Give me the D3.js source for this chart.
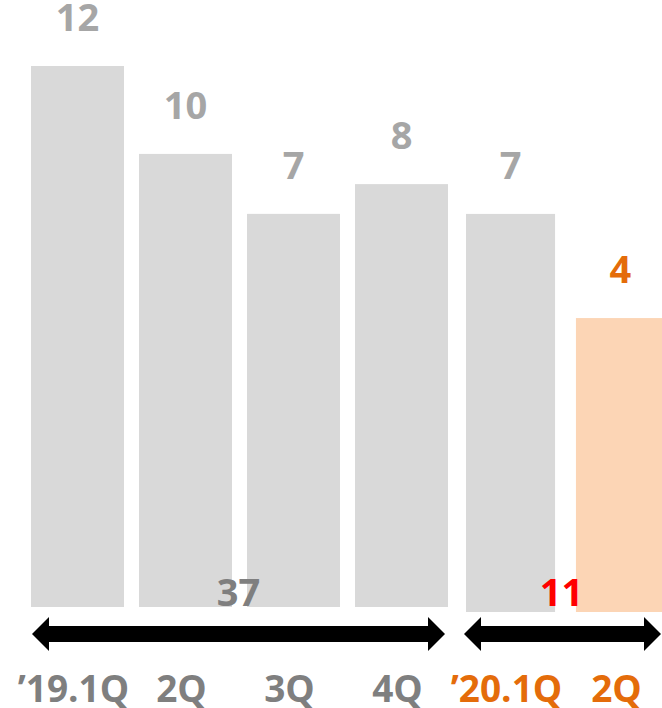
<!DOCTYPE html>
<html>
<head>
  <meta charset='utf-8'>
  <title>Quarterly bars</title>
  <script src="https://d3js.org/d3.v7.min.js"></script>
  <style>
    body { margin: 0; background: #fff; }
    text { font-family: 'Open Sans', sans-serif; font-weight: 700; }
  </style>
</head>
<body>
  <svg width=662 height=708></svg>

<script>

  // data
  const quarters = ['\u201919.1Q', '2Q', '3Q', '4Q', '\u201920.1Q', '2Q'];
  const labels = [12, 10, 7, 8, 7, 4];
  const barValues = [12, 10.05, 8.72, 9.38, 8.83, 6.52];   // bar heights as drawn
  const groups = [0, 0, 0, 0, 1, 1];
  const groupTotals = [37, 11];

  const gray = '#d9d9d9', peach = '#fcd5b5';
  const orange = '#e46c0a';

  let svg = d3.select('svg');

  // one band scale per year
  let x1 = d3.scaleBand().domain([0, 1, 2, 3]).range([31, 448]).paddingInner(0.139);
  let x2 = d3.scaleBand().domain([4, 5]).range([466, 665]).paddingInner(0.19);
  let xs = [x1, x2];
  let baselines = [607, 612];

  let h = d3.scaleLinear().domain([0, 12]).range([0, 541]);

  let data = quarters.map((q, i) => ({
    q: q, label: labels[i], v: barValues[i], g: groups[i], i: i
  }));

  let bx = d => xs[d.g](d.i);
  let bw = d => xs[d.g].bandwidth();
  let barTop = d => baselines[d.g] - h(d.v);

  svg.selectAll('rect.bar')
    .data(data)
    .enter()
      .append('rect')
      .attr('class', 'bar')
      .attr('x', bx)
      .attr('width', bw)
      .attr('y', barTop)
      .attr('height', d => h(d.v))
      .attr('fill', d => d.i == 5 ? peach : gray);

  // value labels
  svg.selectAll('text.val')
    .data(data)
    .enter()
      .append('text')
      .attr('class', 'val')
      .attr('x', d => bx(d) + bw(d) / 2)
      .attr('y', d => barTop(d) - 35)
      .attr('text-anchor', 'middle')
      .attr('font-size', '38px')
      .attr('fill', d => d.i == 5 ? orange : '#a6a6a6')
      .text(d => d.label);

  // quarter labels
  svg.selectAll('text.q')
    .data(data)
    .enter()
      .append('text')
      .attr('class', 'q')
      .attr('x', d => bx(d) + bw(d) / 2 - 4)
      .attr('y', 702)
      .attr('text-anchor', 'middle')
      .attr('font-size', '37px')
      .attr('fill', d => d.g == 1 ? orange : '#7f7f7f')
      .text(d => d.q);

  // double arrows under each year
  let arrowY = 634, shaft = 8, headH = 17, headL = 17;
  let spans = [
    [x1(0) + 1, x1(3) + x1.bandwidth() - 3],
    [x2(4) - 2, 661]
  ];

  function arrowPath(a, b) {
    return d3.line()([
      [a, arrowY],
      [a + headL, arrowY - headH],
      [a + headL, arrowY - shaft],
      [b - headL, arrowY - shaft],
      [b - headL, arrowY - headH],
      [b, arrowY],
      [b - headL, arrowY + headH],
      [b - headL, arrowY + shaft],
      [a + headL, arrowY + shaft],
      [a + headL, arrowY + headH]
    ]) + 'Z';
  }

  svg.selectAll('path.arrow')
    .data(spans)
    .enter()
      .append('path')
      .attr('class', 'arrow')
      .attr('d', d => arrowPath(d[0], d[1]))
      .attr('fill', '#000');

  // totals per year
  svg.selectAll('text.total')
    .data(groupTotals)
    .enter()
      .append('text')
      .attr('class', 'total')
      .attr('x', (d, i) => (spans[i][0] + spans[i][1]) / 2 + (i == 1 ? -1 : 0))
      .attr('y', 606)
      .attr('text-anchor', 'middle')
      .attr('font-size', '38px')
      .attr('fill', (d, i) => i == 1 ? '#ff0000' : '#7f7f7f')
      .text(d => d);

</script>
</body>
</html>
